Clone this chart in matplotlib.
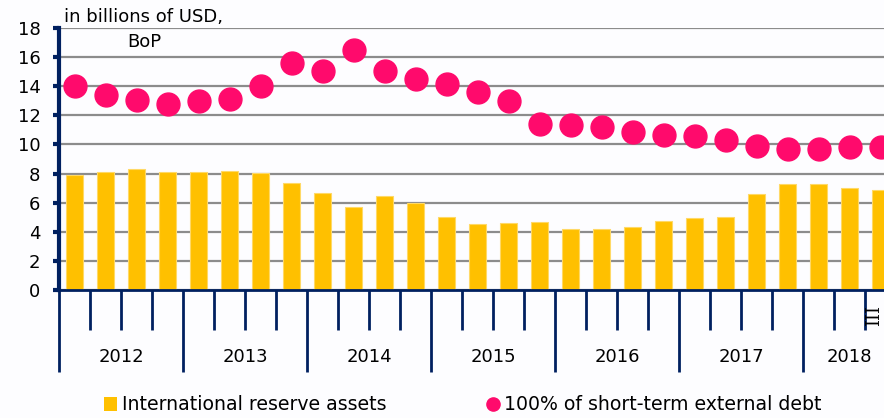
import matplotlib
matplotlib.use("Agg")
import matplotlib.pyplot as plt
from matplotlib.lines import Line2D
from matplotlib.patches import Patch
import matplotlib.transforms as mtransforms
import numpy as np

years = ["2012", "2013", "2014", "2015", "2016", "2017", "2018"]
quarters_per_year = [4, 4, 4, 4, 4, 4, 3]
reserves = [7.90, 8.09, 8.29, 8.13, 8.09, 8.16, 8.02, 7.37, 6.67, 5.70, 6.44, 6.00,
            5.04, 4.56, 4.60, 4.65, 4.17, 4.19, 4.31, 4.76, 4.93, 5.02, 6.58, 7.26,
            7.31, 7.01, 6.85]
st_debt = [14.02, 13.42, 13.04, 12.76, 12.99, 13.10, 14.02, 15.60, 15.02, 16.46, 15.02, 14.47,
           14.13, 13.58, 12.96, 11.42, 11.31, 11.22, 10.84, 10.63, 10.56, 10.29, 9.88, 9.71,
           9.67, 9.81, 9.81]
last_label = "III"
unit_label = "in billions of USD,\nBoP"
legend_labels = ["International reserve assets", "100% of short-term external debt"]

NAVY = "#002060"
YELLOW = "#FFC000"
PINK = "#FF0A6C"
BG = "#FDFDFF"

plt.rcParams['font.family'] = ['DejaVu Sans']

W, H = 884, 418
fig = plt.figure(figsize=(W/100, H/100), dpi=100, facecolor=BG)
n = len(reserves)
x = np.arange(n)
ax_left, ax_right = 59, 59 + 27*31
ax_top, ax_bot = 28, 290
ax = fig.add_axes([ax_left/W, (H-ax_bot)/H, (ax_right-ax_left)/W, (ax_bot-ax_top)/H])
ax.set_facecolor(BG)

ax.set_ylim(0, 18)
ax.set_xlim(-0.5, 26.5)
ax.set_yticks(np.arange(0, 19, 2))
ax.yaxis.grid(True, color="#8C8C8C", linewidth=1.6)
ax.set_axisbelow(True)

ax.bar(x, reserves, width=0.58, color=YELLOW, edgecolor="#FFD966", linewidth=0.8, zorder=2)
ax.plot(x, st_debt, linestyle="none", marker="o", markersize=16.5, color=PINK, zorder=3)

for s in ["top", "right"]:
    ax.spines[s].set_visible(False)
ax.spines["left"].set_color(NAVY)
ax.spines["left"].set_linewidth(3)
ax.spines["bottom"].set_color(NAVY)
ax.spines["bottom"].set_linewidth(2)

ax.tick_params(axis="y", colors=NAVY, length=4.3, width=3, labelsize=13, labelcolor="black", pad=9)

# category ticks
bounds = np.arange(-0.5, 26.0, 1.0)
year_bounds = np.cumsum([0] + quarters_per_year[:-1]) - 0.5
ax.set_xticks(year_bounds)
ax.set_xticklabels([])
ax.set_xticks(bounds, minor=True)
ax.tick_params(axis="x", which="major", colors=NAVY, length=59, width=2, direction="out")
ax.tick_params(axis="x", which="minor", colors=NAVY, length=29, width=2, direction="out")

trans = mtransforms.blended_transform_factory(ax.transData, fig.transFigure)
start = 0
for yr, q in zip(years, quarters_per_year):
    cx = start + (q - 1) / 2 if q == 4 else start + 1
    ax.text(cx, (H-357)/H, yr, transform=trans, ha="center", va="center", fontsize=13)
    start += q
ax.text(n - 1.2, (H-316)/H, last_label, transform=trans, ha="center", va="center",
        fontsize=13, rotation=90, family="DejaVu Serif")

fig.text(144/W, (H-8)/H, unit_label, ha="center", va="top", fontsize=13, linespacing=1.5)

handles = [Patch(facecolor=YELLOW, edgecolor="none"),
           Line2D([], [], linestyle="none", marker="o", markersize=9.5, color=PINK)]
leg = fig.legend(handles, legend_labels, loc="center left", bbox_to_anchor=(104/W, (H-405)/H),
                 ncol=2, frameon=False, fontsize=13.6, handlelength=0.7, handleheight=0.7,
                 handletextpad=0.25, columnspacing=5.3, borderaxespad=0, borderpad=0)

fig.savefig("out.png", dpi=100, facecolor=BG)
